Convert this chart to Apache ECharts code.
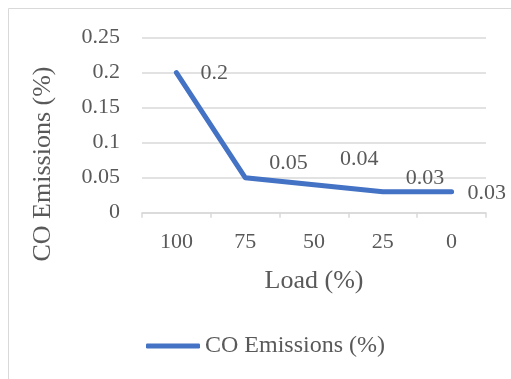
<!DOCTYPE html>
<html>
<head>
<meta charset="utf-8">
<script src="https://cdn.jsdelivr.net/npm/echarts@6/dist/echarts.min.js"></script>
<style>
  html, body { margin: 0; padding: 0; background: #ffffff; }
  #chart { width: 511px; height: 379px; }
</style>
</head>
<body>
<div id="chart"></div>
<script>
// Engine load levels and measured CO emissions
const loads = ['100', '75', '50', '25', '0'];
const coEmissions = [0.2, 0.05, 0.04, 0.03, 0.03];
const yTicks = { min: 0, max: 0.25, step: 0.05 };

// Hand-placed data label nudges (px, relative to the right of each point)
const labelOffsets = [[24, 1], [24, -14], [26, -25], [23, -13], [16, 2]];

const FONT = '"Liberation Serif", "Times New Roman", serif';
const TEXT = '#595959';
const GRID = '#d9d9d9';
const BLUE = '#4472C4';

const chart = echarts.init(document.getElementById('chart'), null, { renderer: 'canvas' });

chart.setOption({
  animation: false,
  backgroundColor: '#ffffff',
  textStyle: { fontFamily: FONT, color: TEXT },
  grid: { left: 142, right: 25, top: 37.5, bottom: 166.3, containLabel: false },
  graphic: [
    {
      type: 'rect', silent: true, z: -1,
      shape: { x: 8.5, y: 8.5, width: 620, height: 500 },
      style: { fill: 'none', stroke: GRID, lineWidth: 1 }
    },
    {
      type: 'text', silent: true,
      x: 43, y: 164, rotation: Math.PI / 2,
      style: {
        text: 'CO Emissions (%)', font: '26px ' + FONT, fill: TEXT,
        align: 'center', verticalAlign: 'middle'
      }
    }
  ],
  legend: {
    left: 146, top: 334, padding: 0,
    icon: 'roundRect',
    itemWidth: 54, itemHeight: 5,
    textStyle: { fontFamily: FONT, fontSize: 24, color: TEXT },
    data: ['CO Emissions (%)']
  },
  xAxis: {
    type: 'category',
    data: loads,
    boundaryGap: true,
    name: 'Load (%)',
    nameLocation: 'middle',
    nameGap: 55,
    nameTextStyle: { fontFamily: FONT, fontSize: 26, color: TEXT },
    axisLine: { lineStyle: { color: GRID, width: 1.5 } },
    axisTick: { show: true, length: 5, lineStyle: { color: GRID, width: 1.5 } },
    axisLabel: { margin: 19, fontFamily: FONT, fontSize: 22, color: TEXT },
    splitLine: { show: false }
  },
  yAxis: {
    type: 'value',
    min: yTicks.min, max: yTicks.max, interval: yTicks.step,
    axisLine: { show: false },
    axisTick: { show: false },
    axisLabel: { margin: 22, fontFamily: FONT, fontSize: 22, color: TEXT },
    splitLine: { lineStyle: { color: GRID, width: 1.5 } }
  },
  series: [{
    name: 'CO Emissions (%)',
    type: 'line',
    data: coEmissions.map((v, i) => ({
      value: v,
      label: { offset: labelOffsets[i] }
    })),
    symbol: 'circle',
    symbolSize: 0,
    showSymbol: true,
    lineStyle: { color: BLUE, width: 5, cap: 'round', join: 'round' },
    itemStyle: { color: BLUE },
    label: {
      show: true, position: 'right', distance: 0,
      fontFamily: FONT, fontSize: 22, color: TEXT,
      formatter: p => String(p.value)
    }
  }]
});
</script>
</body>
</html>
